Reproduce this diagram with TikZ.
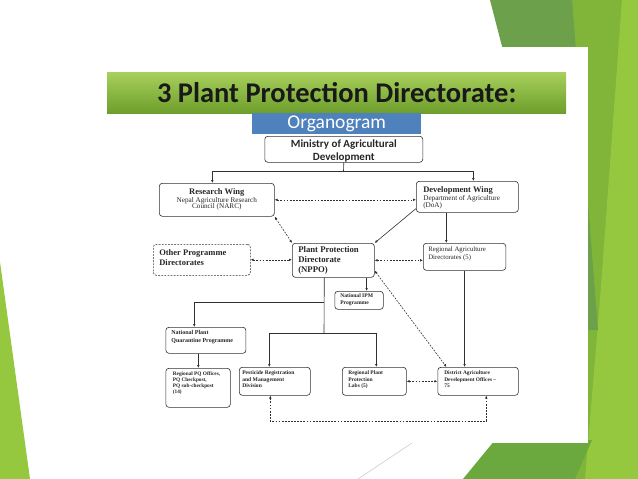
\documentclass[tikz,border=0pt]{standalone}
\usepackage{fontspec}
\setmainfont{Liberation Serif}
\newfontfamily\calibrifont{Carlito}
\usetikzlibrary{arrows.meta,calc}
\definecolor{linec}{HTML}{303030}
\definecolor{midgreen}{HTML}{80B53A}
\definecolor{lightgreen}{HTML}{96C83F}
\definecolor{darkgreen}{HTML}{6CA04A}
\definecolor{darkgreenb}{HTML}{6BA93E}
\definecolor{titletop}{HTML}{A8D05C}
\definecolor{titlebot}{HTML}{6E9E2C}
\definecolor{orgblue}{HTML}{4F81BD}
\newcommand\boxtext[5]{\parbox[c][#2][t]{#1}{\vspace*{#4}\hspace*{#3}\parbox[t]{\dimexpr#1-#3\relax}{\raggedright #5}}}
\tikzset{
  orgbox/.style={draw=linec, rounded corners=3pt, line width=0.6pt, inner sep=0pt, anchor=north west, fill=white, text=black!85},
  conn/.style={draw=linec, line width=0.6pt},
  arr/.style={conn, -{Latex[length=3pt,width=2.6pt]}},
  darr/.style={conn, {Latex[length=3pt,width=2.6pt]}-{Latex[length=3pt,width=2.6pt]}, dash pattern=on 1.8pt off 1.3pt},
}
\begin{document}
\begin{tikzpicture}[x=1pt,y=-1pt]
\useasboundingbox (0,0) rectangle (638,479);
% background
\fill[white] (0,0) rectangle (638,479);
\fill[midgreen] (555,0) rectangle (638,479);
\fill[lightgreen] (622,0) -- (638,0) -- (638,479) -- (585,479) -- (600,300) -- cycle;
\fill[darkgreen] (490,0) -- (572,0) -- (598,330) -- (588,330) -- (505,58) -- cycle;
\fill[darkgreenb] (463,479) -- (495,440) -- (592,440) -- (575,479) -- cycle;
\fill[white] (0,47) rectangle (588,443);
\fill[lightgreen] (0,262) -- (30,479) -- (0,479) -- cycle;
\draw[gray!45, line width=0.5pt] (358,479) -- (412,443);
% title
\node[anchor=north west, minimum width=459pt, minimum height=41pt, inner sep=0pt,
      top color=titletop, bottom color=titlebot, font=\calibrifont\bfseries\fontsize{28.5}{30}\selectfont, text=black!90]
      (title) at (107,72) {3 Plant Protection Directorate:};
% ministry
\node[orgbox, font=\calibrifont\bfseries\fontsize{11}{13}\selectfont] (min) at (264.5,136)
  {\boxtext{158pt}{26pt}{0pt}{3pt}{\centering Ministry of Agricultural\\Development}};
\node[anchor=north west, minimum width=169pt, minimum height=21pt, inner sep=0pt, fill=orgblue,
      text=white, font=\calibrifont\fontsize{19.5}{20}\selectfont] (organo) at (252,113) {Organogram};
% boxes
\node[orgbox, font=\fontsize{7.2}{6.8}\selectfont] (rw) at (159,183)
  {\boxtext{115pt}{33pt}{0pt}{5pt}{\centering{\fontsize{8.5}{9}\selectfont\bfseries Research Wing}\\Nepal Agriculture Research\\Council (NARC)}};
\node[orgbox, font=\fontsize{7.2}{6.8}\selectfont] (dw) at (416,181)
  {\boxtext{102pt}{31pt}{7pt}{5.5pt}{{\fontsize{8.5}{9}\selectfont\bfseries Development Wing}\\Department of Agriculture\\(DoA)}};
\node[orgbox, font=\fontsize{8.7}{10}\selectfont\bfseries] (pp) at (292,243)
  {\boxtext{82pt}{34pt}{6pt}{3.5pt}{Plant Protection\\Directorate\\(NPPO)}};
\node[orgbox, dash pattern=on 1.8pt off 1.3pt, font=\fontsize{8.5}{10}\selectfont\bfseries] (opd) at (153,244)
  {\boxtext{97pt}{31pt}{6pt}{5.5pt}{Other Programme\\Directorates}};
\node[orgbox, font=\fontsize{6.8}{8}\selectfont] (rad) at (423,243)
  {\boxtext{82.5pt}{27pt}{5pt}{3.5pt}{Regional Agriculture\\Directorates (5)}};
\node[orgbox, font=\fontsize{5.6}{7}\selectfont\bfseries] (ipm) at (334.5,291)
  {\boxtext{48.5pt}{18pt}{5.5pt}{2.5pt}{National IPM\\Programme}};
\node[orgbox, font=\fontsize{6}{8.5}\selectfont\bfseries] (npq) at (165.6,327)
  {\boxtext{80pt}{26pt}{5.5pt}{3pt}{National Plant\\Quarantine Programme}};
\node[orgbox, font=\fontsize{5.3}{6.3}\selectfont\bfseries] (pq) at (165.6,368)
  {\boxtext{64.4pt}{39pt}{7pt}{3pt}{Regional PQ Offices,\\PQ Checkpost,\\PQ sub-checkpost\\(14)}};
\node[orgbox, font=\fontsize{5.6}{6.5}\selectfont\bfseries] (prd) at (239,367)
  {\boxtext{71pt}{28pt}{3pt}{3.5pt}{Pesticide Registration\\and Management\\Division}};
\node[orgbox, font=\fontsize{5.5}{6.5}\selectfont\bfseries] (lab) at (342,367)
  {\boxtext{64pt}{28pt}{6pt}{3.5pt}{Regional Plant\\Protection\\Labs (5)}};
\node[orgbox, font=\fontsize{5.4}{6.5}\selectfont\bfseries] (dao) at (437.5,367)
  {\boxtext{80.5pt}{28pt}{6.5pt}{3.5pt}{District Agriculture\\Development Offices --\\75}};
% junctions
\coordinate (j1) at (343.5,171);
\coordinate (j2) at (324,302);
\coordinate (j3) at (324,333);
\coordinate (j4) at (380,421);
% connectors
\draw[conn] (min.south) -- (j1);
\draw[arr] (j1) -| ([xshift=-4.5pt]rw.north);
\draw[arr] (j1) -| ([xshift=6pt]dw.north);
\draw[darr] (rw.east) -- (rw.east -| dw.west);
\draw[darr] (rw.south east) -- (pp.north west);
\draw[arr] ([yshift=4pt]dw.south west) -- (pp.north east);
\draw[arr] ([xshift=-21pt]dw.south) -- ([xshift=-21pt]dw.south |- rad.north);
\draw[darr] (opd.east) -- (opd.east -| pp.west);
\draw[darr] (pp.east) -- (pp.east -| rad.west);
\draw[arr] ([xshift=-8pt]pp.south east) -- ([xshift=-8pt]pp.south east |- ipm.north);
\draw[conn] ([xshift=-9pt]pp.south) -- (j3);
\draw[arr] (j2) -| ([xshift=-11.6pt]npq.north);
\draw[arr] (j3) -| ([xshift=-5.5pt]prd.north);
\draw[arr] (j3) -| ([xshift=2pt]lab.north);
\draw[arr] ([xshift=-7.6pt]npq.south) -- ([xshift=-7.6pt]npq.south |- pq.north);
\draw[darr] (lab.east) -- (lab.east -| dao.west);
\draw[arr] (rad.south) -- (rad.south |- dao.north);
\draw[darr] ([yshift=7pt]pp.south east) -- ([xshift=9pt]dao.north west);
\draw[darr] ([xshift=-4.5pt]prd.south) |- (j4) -| ([xshift=8.25pt]dao.south);
\end{tikzpicture}
\end{document}
